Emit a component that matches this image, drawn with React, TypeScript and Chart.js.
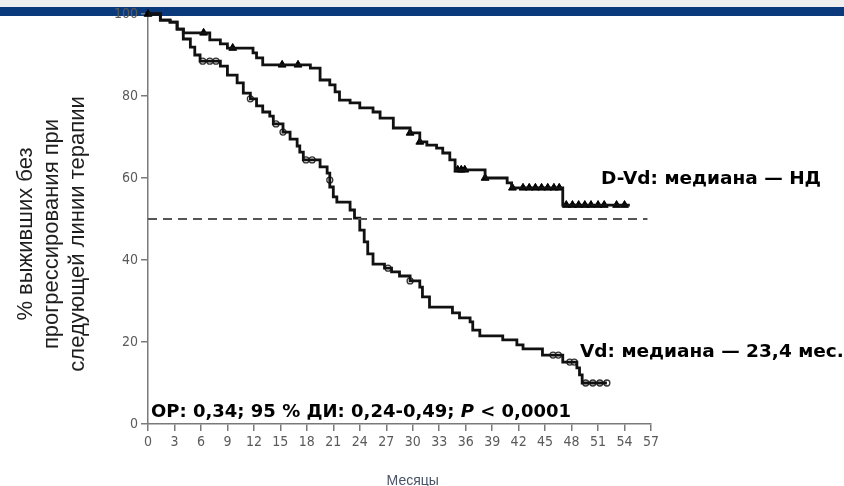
import React, { useEffect, useRef } from "react";
import { Chart, registerables } from "chart.js";

Chart.register(...registerables);

// ---- Data (months, % surviving without progression on next line of therapy) ----
const dvdMonths = [0, 1.4, 2.5, 3.3, 4.0, 7.0, 8.2, 9.0, 11.9, 12.3, 13.0, 18.4, 19.5, 20.6, 21.2, 21.7, 22.9, 24.0, 25.5, 26.3, 27.8, 29.7, 30.8, 31.6, 32.7, 33.4, 34.2, 34.8, 38.2, 40.7, 41.2, 47.0, 54.6];
const dvdSurv = [100, 98.5, 98.0, 96.3, 95.4, 93.7, 92.7, 91.7, 90.5, 89.3, 87.6, 86.8, 83.9, 82.7, 81.0, 79.0, 78.3, 77.1, 76.1, 74.6, 72.2, 71.0, 68.8, 68.0, 67.3, 66.1, 64.4, 62.0, 60.0, 58.8, 57.6, 53.4, 53.4];

const vdMonths = [0, 1.4, 2.5, 3.3, 4.0, 4.8, 5.3, 5.9, 8.2, 9.0, 10.1, 10.8, 11.6, 12.3, 13.0, 13.8, 14.2, 15.3, 16.1, 16.9, 17.2, 17.6, 19.5, 20.3, 20.6, 21.0, 21.4, 22.9, 23.4, 24.0, 24.5, 24.9, 25.5, 26.8, 27.6, 28.5, 29.7, 30.8, 31.1, 31.9, 34.5, 35.3, 36.5, 36.8, 37.6, 40.2, 41.8, 42.5, 44.7, 47.0, 48.6, 48.9, 49.2, 52.0];
const vdSurv = [100, 98.5, 98.0, 96.3, 93.9, 91.9, 90.0, 88.5, 87.3, 85.1, 83.2, 80.7, 79.3, 77.6, 76.1, 75.1, 73.2, 71.2, 69.5, 67.8, 66.3, 64.4, 62.7, 61.2, 57.8, 55.4, 54.1, 52.2, 50.2, 47.3, 44.4, 41.5, 39.0, 38.0, 37.1, 36.1, 34.9, 33.4, 31.0, 28.5, 27.1, 25.9, 24.9, 22.9, 21.5, 20.5, 19.3, 18.3, 16.8, 15.1, 13.7, 12.0, 10.0, 10.0];

const dvdCensorMonths = [0, 6.3, 9.6, 15.2, 17.0, 29.7, 30.8, 35.1, 35.5, 35.9, 38.2, 41.3, 42.5, 43.2, 43.9, 44.6, 45.3, 46.0, 46.6, 47.4, 48.1, 48.8, 49.5, 50.2, 51.0, 51.7, 53.1, 54.0];
const dvdCensorSurv = [100, 95.4, 91.7, 87.6, 87.6, 71.0, 68.8, 62.0, 62.0, 62.0, 60.0, 57.6, 57.6, 57.6, 57.6, 57.6, 57.6, 57.6, 57.6, 53.4, 53.4, 53.4, 53.4, 53.4, 53.4, 53.4, 53.4, 53.4];

const vdCensorMonths = [6.2, 7.0, 7.7, 11.6, 14.5, 15.3, 17.9, 18.6, 20.6, 27.2, 29.7, 45.9, 46.5, 47.8, 48.3, 49.6, 50.4, 51.2, 52.0];
const vdCensorSurv = [88.5, 88.5, 88.5, 79.3, 73.2, 71.2, 64.4, 64.4, 59.5, 38.0, 34.9, 16.8, 16.8, 15.1, 15.1, 10.0, 10.0, 10.0, 10.0];

const medianLineMonths = [0, 56.6];
const medianLineSurv = [50, 50];

const xMin = 0, xMax = 57, xStep = 3;
const yMin = 0, yMax = 100, yStep = 20;

const yTitleLines = ["% выживших без", "прогрессирования при", "следующей линии терапии"];
const xTitle = "Месяцы";
const dvdLabel = "D-Vd: медиана — НД";
const vdLabel = "Vd: медиана — 23,4 мес.";
const statsParts = [
  { text: "ОР: 0,34; 95 % ДИ: 0,24-0,49; ", italic: false },
  { text: "P", italic: true },
  { text: " < 0,0001", italic: false },
];

const pts = (xs: number[], ys: number[]) => xs.map((x, i) => ({ x, y: ys[i] }));

const decorPlugin = {
  id: "decor",
  beforeDraw(chart: any) {
    const { ctx, width, height } = chart;
    ctx.save();
    ctx.fillStyle = "#ffffff";
    ctx.fillRect(0, 0, width, height);
    ctx.fillStyle = "#efefef";
    ctx.fillRect(0, 0, width, 7);
    ctx.fillStyle = "#0b3a7c";
    ctx.fillRect(0, 7, width, 9);
    ctx.restore();
  },
  afterDraw(chart: any) {
    const { ctx } = chart;
    const xs = chart.scales.x;
    ctx.save();
    // Y axis title (three rotated lines)
    ctx.fillStyle = "#1e1e1e";
    ctx.font = '22px "Liberation Sans", Arial, sans-serif';
    ctx.textAlign = "center";
    ctx.textBaseline = "alphabetic";
    const baseX = [32, 58, 84];
    yTitleLines.forEach((line, i) => {
      ctx.save();
      ctx.translate(baseX[i], 234);
      ctx.rotate(-Math.PI / 2);
      ctx.fillText(line, 0, 0);
      ctx.restore();
    });
    // X axis title
    ctx.fillStyle = "#4a5266";
    ctx.font = '14px "Liberation Sans", Arial, sans-serif';
    ctx.textAlign = "center";
    ctx.fillText(xTitle, xs.getPixelForValue(30), 485);

    // Annotations
    ctx.fillStyle = "#000";
    ctx.textAlign = "left";
    ctx.font = 'bold 18.5px "DejaVu Sans", Verdana, sans-serif';
    ctx.fillText(dvdLabel, 601, 184);
    ctx.fillText(vdLabel, 580, 357);
    let x = 151;
    statsParts.forEach((p) => {
      ctx.font = (p.italic ? "italic " : "") + 'bold 18px "DejaVu Sans", Verdana, sans-serif';
      ctx.fillText(p.text, x, 417);
      x += ctx.measureText(p.text).width;
    });
    ctx.restore();
  },
};

export default function App() {
  const ref = useRef<HTMLCanvasElement | null>(null);
  useEffect(() => {
    if (!ref.current) return;
    const tickFont = { family: '"Liberation Sans Narrow", "Arial Narrow", "DejaVu Sans Condensed", sans-serif', size: 14 };
    const chart = new Chart(ref.current, {
      type: "line",
      data: {
        datasets: [
          {
            label: "median",
            data: pts(medianLineMonths, medianLineSurv),
            borderColor: "#555",
            borderWidth: 2,
            borderDash: [9, 6],
            pointRadius: 0,
            clip: false as any,
          },
          {
            label: "Vd",
            data: pts(vdMonths, vdSurv),
            borderColor: "#111",
            borderWidth: 2.8,
            stepped: "before",
            pointRadius: 0,
            clip: false as any,
          },
          {
            label: "D-Vd",
            data: pts(dvdMonths, dvdSurv),
            borderColor: "#111",
            borderWidth: 2.8,
            stepped: "before",
            pointRadius: 0,
            clip: false as any,
          },
          {
            type: "scatter" as any,
            label: "Vd censored",
            data: pts(vdCensorMonths, vdCensorSurv),
            pointStyle: "circle",
            pointRadius: 3,
            pointBorderWidth: 1.3,
            pointBorderColor: "#333",
            pointBackgroundColor: "rgba(255,255,255,0.7)",
            showLine: false,
            clip: false as any,
          },
          {
            type: "scatter" as any,
            label: "D-Vd censored",
            data: pts(dvdCensorMonths, dvdCensorSurv),
            pointStyle: "triangle",
            pointRadius: 4.5,
            pointBorderWidth: 1,
            pointBorderColor: "#000",
            pointBackgroundColor: "#000",
            showLine: false,
            clip: false as any,
          },
        ],
      },
      options: {
        animation: false,
        responsive: false,
        devicePixelRatio: 1,
        layout: { padding: { top: 14, right: 193, left: 0, bottom: 0 } },
        plugins: { legend: { display: false }, tooltip: { enabled: false } },
        scales: {
          x: {
            type: "linear",
            min: xMin,
            max: xMax,
            afterFit: (s: any) => { s.height = 62; },
            border: { display: true, color: "#7a7a7a", width: 1.5 },
            grid: { display: true, drawOnChartArea: false, drawTicks: true, tickLength: 7, color: "#7a7a7a", lineWidth: 1.5 },
            ticks: { stepSize: xStep, autoSkip: false, maxRotation: 0, color: "#5a5a5a", font: tickFont, padding: 3 },
          },
          y: {
            type: "linear",
            min: yMin,
            max: yMax,
            afterFit: (s: any) => { s.width = 148; },
            border: { display: true, color: "#7a7a7a", width: 1.5 },
            grid: { display: true, drawOnChartArea: false, drawTicks: true, tickLength: 7, color: "#7a7a7a", lineWidth: 1.5 },
            ticks: { stepSize: yStep, color: "#5a5a5a", font: tickFont, padding: 3 },
          },
        },
      },
      plugins: [decorPlugin],
    } as any);
    return () => chart.destroy();
  }, []);
  return (
    <div style={{ position: "absolute", left: 0, top: 0, width: 844, height: 486 }}>
      <canvas ref={ref} width={844} height={486} style={{ width: 844, height: 486, display: "block" }} />
    </div>
  );
}
